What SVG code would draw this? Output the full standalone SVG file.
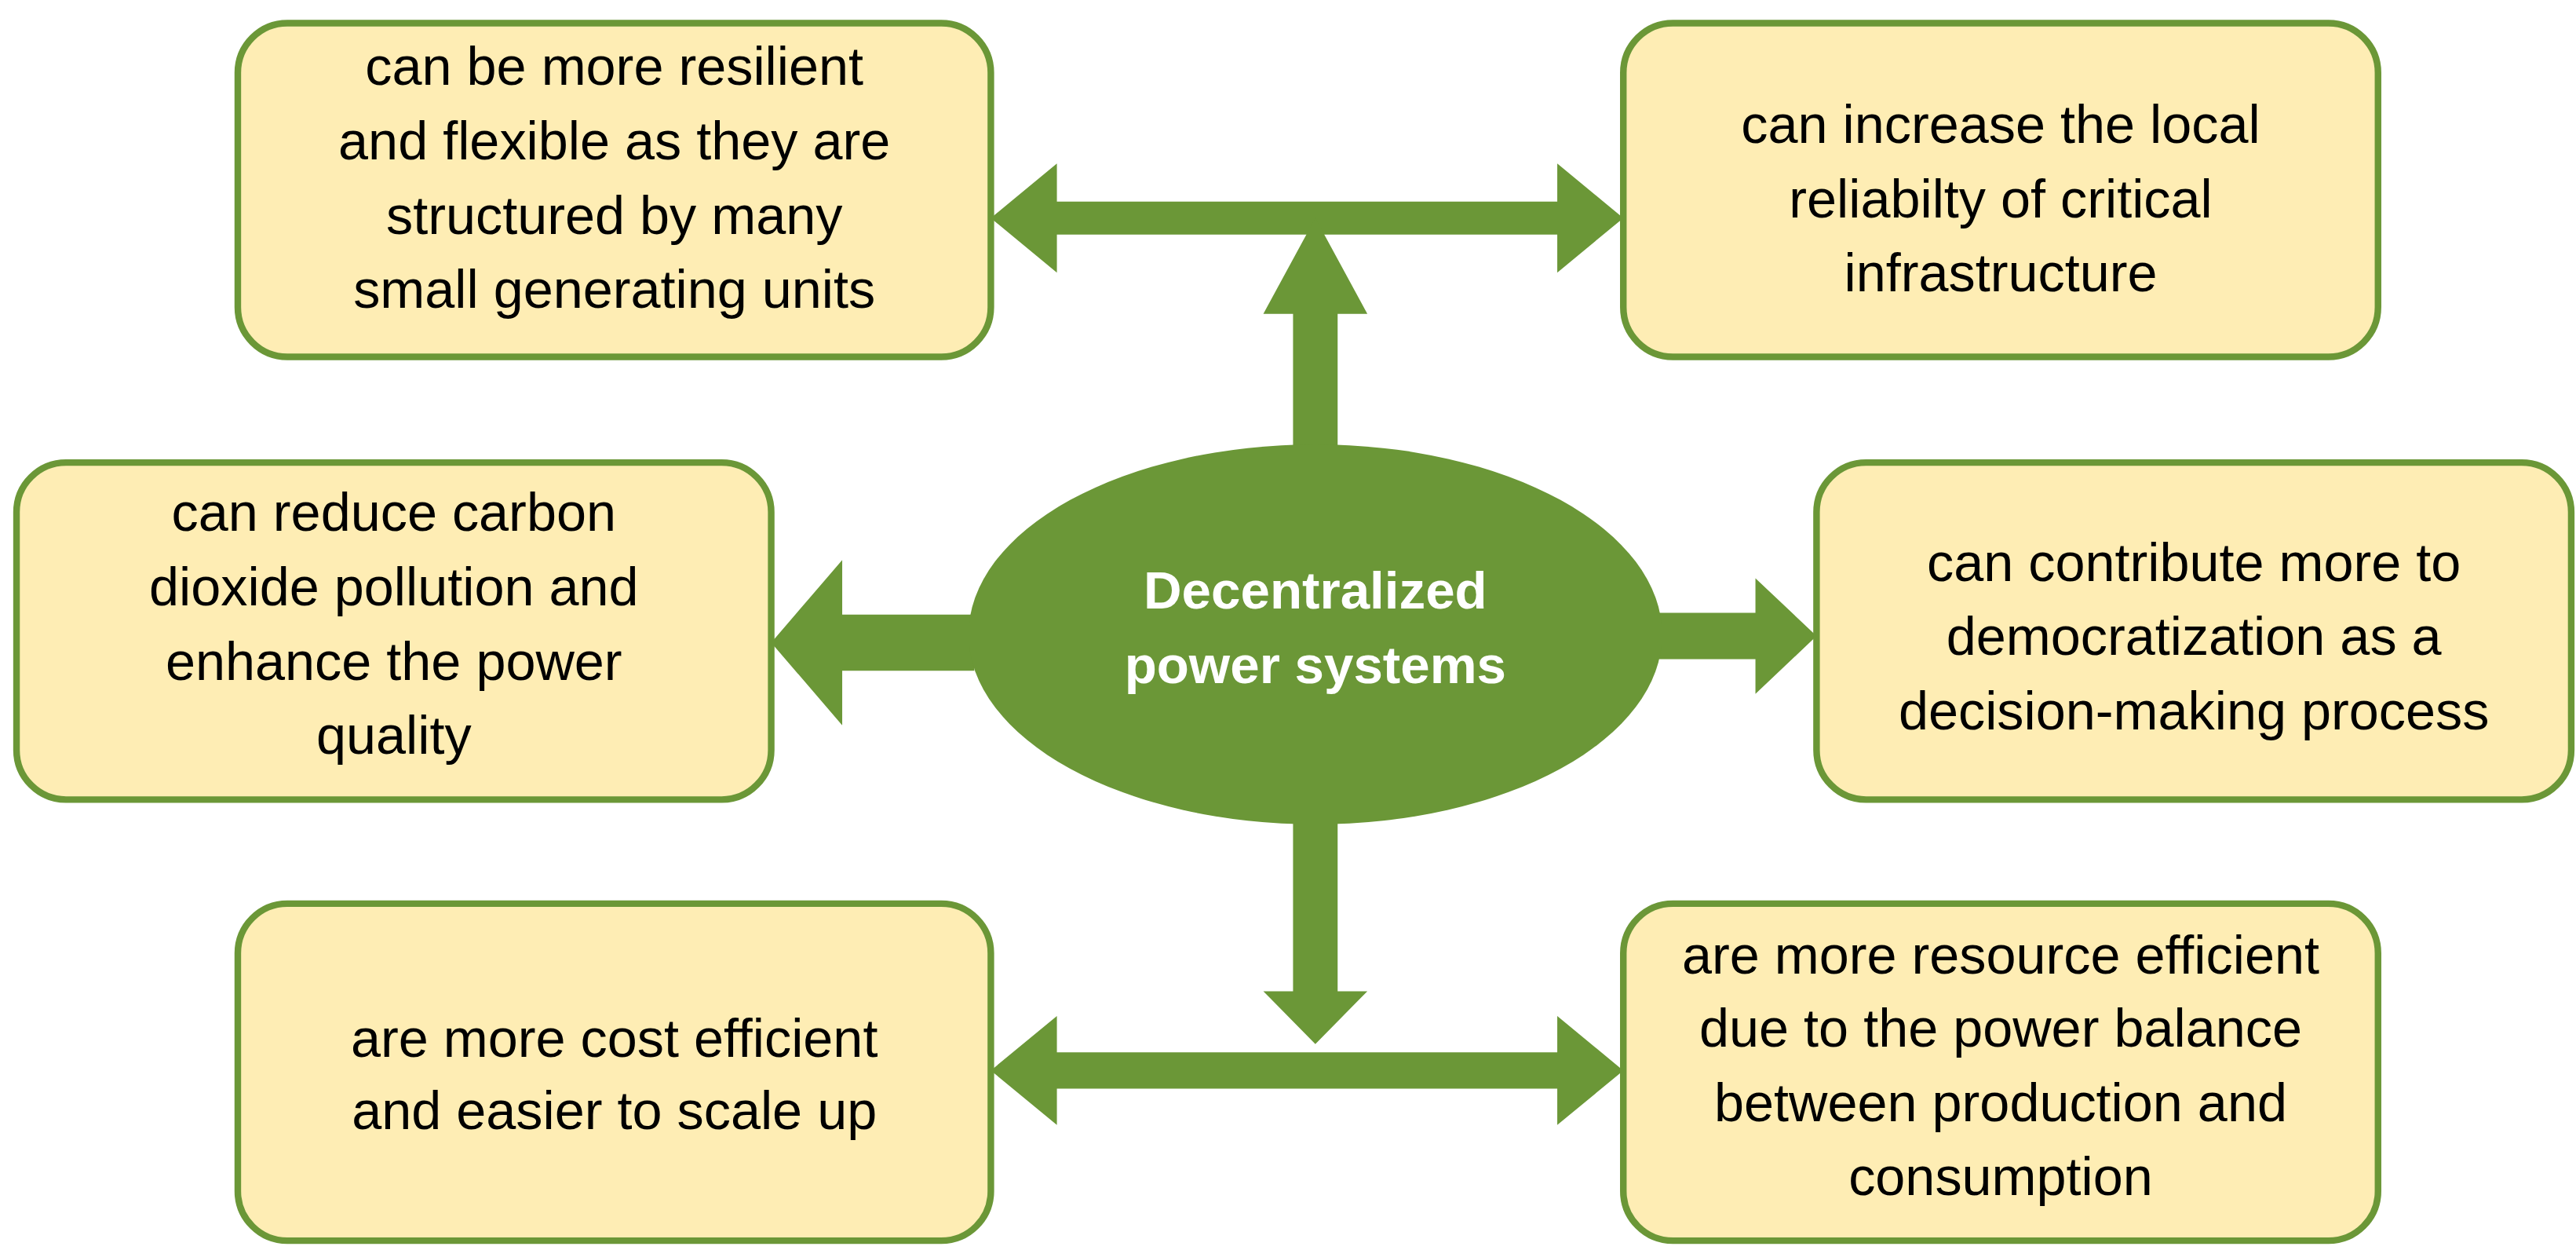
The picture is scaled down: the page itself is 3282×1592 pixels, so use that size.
<svg xmlns="http://www.w3.org/2000/svg" width="3282" height="1592" viewBox="0 0 3282 1592">
<style>
.box{fill:#FEEDB4;stroke:#6B9737;stroke-width:8}
.t{font-family:"Liberation Sans",Arial,sans-serif;font-size:65px;fill:#000;text-anchor:middle}
.c{font-family:"Liberation Sans",Arial,sans-serif;font-size:64px;font-weight:bold;fill:#fff;text-anchor:middle}
.a{fill:#6B9737}
</style>
<rect width="3282" height="1592" fill="#fff"/>
<g transform="scale(1.052)">
<g id="connectors">
<polygon class="a" points="1200,264 1280,198 1280,244 1886,244 1886,198 1966,264 1886,330 1886,284 1280,284 1280,330"/>
<polygon class="a" points="1593,264 1656,380 1620,380 1620,548 1566,548 1566,380 1530,380"/>
<polygon class="a" points="934,778 1020,678 1020,744 1180,744 1180,812 1020,812 1020,878"/>
<polygon class="a" points="2200,770 2126,700 2126,742 2008,742 2008,798 2126,798 2126,840"/>
<polygon class="a" points="1593,1264 1656,1200 1620,1200 1620,990 1566,990 1566,1200 1530,1200"/>
<polygon class="a" points="1200,1296 1280,1230 1280,1274 1886,1274 1886,1230 1966,1296 1886,1362 1886,1318 1280,1318 1280,1362"/>
</g>
<g id="center">
<ellipse cx="1593" cy="768" rx="420" ry="230" fill="#6B9737"/>
<text class="c" x="1593" y="737">Decentralized</text>
<text class="c" x="1593" y="827">power systems</text>
</g>
<g id="tl">
<rect class="box" x="288" y="28" width="912" height="404" rx="60"/>
<text class="t" x="744" y="103">can be more resilient</text>
<text class="t" x="744" y="193">and flexible as they are</text>
<text class="t" x="744" y="283">structured by many</text>
<text class="t" x="744" y="373">small generating units</text>
</g>
<g id="tr">
<rect class="box" x="1966" y="28" width="914" height="404" rx="60"/>
<text class="t" x="2423" y="173">can increase the local</text>
<text class="t" x="2423" y="263">reliabilty of critical</text>
<text class="t" x="2423" y="353">infrastructure</text>
</g>
<g id="ml">
<rect class="box" x="20" y="560" width="914" height="408" rx="60"/>
<text class="t" x="477" y="643">can reduce carbon</text>
<text class="t" x="477" y="733">dioxide pollution and</text>
<text class="t" x="477" y="823">enhance the power</text>
<text class="t" x="477" y="913">quality</text>
</g>
<g id="mr">
<rect class="box" x="2200" y="560" width="914" height="408" rx="60"/>
<text class="t" x="2657" y="703">can contribute more to</text>
<text class="t" x="2657" y="793">democratization as a</text>
<text class="t" x="2657" y="883">decision-making process</text>
</g>
<g id="bl">
<rect class="box" x="288" y="1094" width="912" height="408" rx="60"/>
<text class="t" x="744" y="1279">are more cost efficient</text>
<text class="t" x="744" y="1367">and easier to scale up</text>
</g>
<g id="br">
<rect class="box" x="1966" y="1094" width="914" height="408" rx="60"/>
<text class="t" x="2423" y="1179">are more resource efficient</text>
<text class="t" x="2423" y="1267">due to the power balance</text>
<text class="t" x="2423" y="1357">between production and</text>
<text class="t" x="2423" y="1447">consumption</text>
</g>
</g>
</svg>
